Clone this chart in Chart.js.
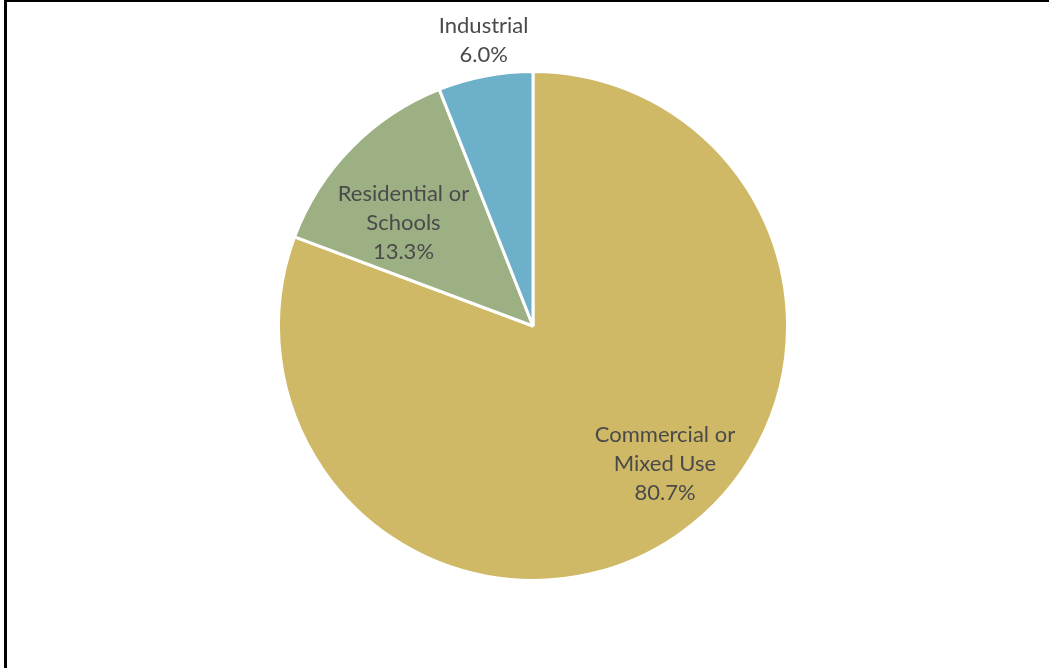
<!DOCTYPE html>
<html>
<head>
<meta charset="utf-8">
<script src="https://cdn.jsdelivr.net/npm/chart.js@4/dist/chart.umd.min.js"></script>
<style>
    html, body { margin: 0; padding: 0; background: #fff; }
    #frame {
        position: absolute; left: 4px; top: 0; width: 1045px; height: 668px;
        border-top: 2px solid #000; border-left: 3px solid #000; box-sizing: border-box;
    }
    #wrap { position: absolute; left: 0; top: 0; width: 1049px; height: 668px; }
</style>
</head>
<body>
<div id="frame"></div>
<div id="wrap"><canvas id="pieChart"></canvas></div>
<script>
// ================= DATA =================
const categories = [["Commercial or", "Mixed Use"], ["Residential or", "Schools"], ["Industrial"]];
const shares = [80.7, 13.3, 6.0];
const sliceColors = ["#CFB966", "#9DB084", "#6CB0C9"];

// label placement: angle shift (deg) from slice middle, radius factor
const labelPlacement = [
    { shift: -9, r: 0.75 },
    { shift: -6, r: 0.65 },
    { shift: 1, r: 1.14 }
];

// ================= LABEL PLUGIN =================
const sliceLabels = {
    id: "sliceLabels",
    afterDatasetsDraw(chart) {
        const ctx = chart.ctx;
        const meta = chart.getDatasetMeta(0);
        ctx.save();
        ctx.font = "22px Lato, 'Open Sans', sans-serif";
        ctx.fillStyle = "#4a4a4a";
        ctx.textAlign = "center";
        ctx.textBaseline = "middle";
        meta.data.forEach((arc, i) => {
            const p = arc.getProps(["x", "y", "startAngle", "endAngle", "outerRadius"], true);
            const mid = (p.startAngle + p.endAngle) / 2 + labelPlacement[i].shift * Math.PI / 180;
            const rr = p.outerRadius * labelPlacement[i].r;
            const cx = p.x + Math.cos(mid) * rr;
            const cy = p.y + Math.sin(mid) * rr;
            const lines = categories[i].concat([shares[i].toFixed(1) + "%"]);
            const lh = 29;
            lines.forEach((t, k) => {
                ctx.fillText(t, cx, cy + (k - (lines.length - 1) / 2) * lh);
            });
        });
        ctx.restore();
    }
};

// ================= CHART =================
new Chart(document.getElementById("pieChart"), {
    type: "pie",
    data: {
        labels: categories.map(c => c.join(" ")),
        datasets: [{
            data: shares,
            backgroundColor: sliceColors,
            borderColor: "#ffffff",
            borderWidth: 3
        }]
    },
    options: {
        responsive: true,
        maintainAspectRatio: false,
        animation: false,
        layout: { padding: { top: 70, bottom: 86, left: 17, right: 0 } },
        plugins: {
            legend: { display: false },
            tooltip: { enabled: false }
        }
    },
    plugins: [sliceLabels]
});
</script>
</body>
</html>
